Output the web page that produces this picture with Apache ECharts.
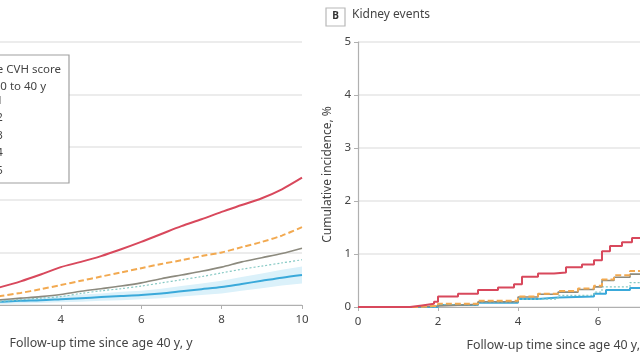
<!DOCTYPE html>
<html><head><meta charset="utf-8">
<script src="https://cdn.jsdelivr.net/npm/echarts@6/dist/echarts.min.js"></script>
<style>html,body{margin:0;padding:0;background:#fff}#c{width:640px;height:360px}</style>
</head><body><div id="c"></div>
<script>
// Panel A (cut off on the left) - smooth cumulative curves
const tA = [0,1,2,2.5,3,3.5,4,4.5,5,5.5,6,6.5,7,7.5,8,8.5,9,9.5,10];
const aQ1 = [0,0.1,0.24,0.34,0.45,0.58,0.72,0.82,0.93,1.06,1.2,1.35,1.5,1.63,1.77,1.9,2.03,2.2,2.42];
const aQ2 = [0,0.04,0.12,0.17,0.23,0.3,0.38,0.46,0.54,0.62,0.7,0.78,0.85,0.93,1.0,1.1,1.2,1.32,1.48];
const aQ3 = [0,0.02,0.07,0.1,0.13,0.16,0.2,0.26,0.31,0.36,0.42,0.5,0.57,0.64,0.72,0.82,0.9,0.98,1.08];
const aQ4 = [0,0.02,0.05,0.07,0.1,0.13,0.16,0.22,0.27,0.31,0.36,0.42,0.48,0.54,0.61,0.68,0.74,0.8,0.86];
const aQ5 = [0,0.01,0.04,0.06,0.08,0.09,0.11,0.13,0.15,0.17,0.19,0.22,0.26,0.3,0.34,0.4,0.46,0.52,0.57];
const aQ5lo = [0,0,0.01,0.02,0.03,0.04,0.05,0.06,0.08,0.09,0.11,0.13,0.16,0.19,0.22,0.27,0.32,0.37,0.41];
const aQ5hi = [0,0.03,0.08,0.11,0.13,0.15,0.17,0.2,0.22,0.25,0.27,0.31,0.36,0.41,0.46,0.53,0.6,0.67,0.73];

// Panel B Kidney events (cut off on the right) - step curves
const bT1 = [0,1,1.3,1.6,1.9,2,2.5,3,3.5,3.9,4.1,4.5,4.9,5.2,5.6,5.9,6.1,6.3,6.6,6.85,7.1];
const bQ1 = [0,0,0.03,0.06,0.1,0.2,0.25,0.32,0.37,0.43,0.57,0.63,0.65,0.75,0.8,0.88,1.05,1.15,1.22,1.3,1.36];
const bT2 = [0,1,1.5,2,3,4,4.5,5,5.5,5.9,6.1,6.4,6.8,7.1];
const bQ2 = [0,0,0.02,0.06,0.12,0.2,0.25,0.3,0.35,0.4,0.52,0.6,0.68,0.72];
const bQ3 = [0,0,0.02,0.05,0.1,0.19,0.24,0.28,0.33,0.38,0.5,0.56,0.62,0.65];
const bT4 = [0,1,2,3,4,5,5.9,6.1,6.8,7.1];
const bQ4 = [0,0,0.04,0.09,0.15,0.22,0.28,0.38,0.46,0.5];
const bT5 = [0,1,2,3,4,4.5,5,5.9,6.2,6.8,7.1];
const bQ5 = [0,0,0.04,0.08,0.15,0.18,0.2,0.25,0.32,0.36,0.39];

const names = ['Q1','Q2','Q3','Q4','Q5'];
const colors = ['#d8485c','#f2a950','#8c8a7e','#86c9c4','#3aa9da'];
const yTicks = [0,1,2,3,4,5];
const xTicks = [0,2,4,6,8,10];

const FONT = 'Noto Sans';
const zip = (xs, ys) => xs.map((x,i)=>[x, ys[i]]);

const lineStyles = [
  {width:2, type:'solid'},
  {width:2, type:[6,3]},
  {width:1.6, type:'solid'},
  {width:1.2, type:[2,2]},
  {width:2, type:'solid'}
];

function mkAxisX(gi){
  return {
    gridIndex: gi, type:'value', min:0, max:10, interval:2,
    name:'Follow-up time since age 40 y, y', nameLocation:'middle', nameGap:32,
    nameTextStyle:{fontFamily:FONT, fontSize:12.4, color:'#444'},
    axisLine:{show:true, lineStyle:{color:'#b0b0b0', width:1.2}},
    axisTick:{show:true, length:4, lineStyle:{color:'#b0b0b0'}},
    axisLabel:{fontFamily:FONT, fontSize:11.5, color:'#444', margin:9,
      formatter: v => xTicks.includes(v) ? String(v) : ''},
    splitLine:{show:false}
  };
}
function mkAxisY(gi, withName){
  return {
    gridIndex: gi, type:'value', min:0, max:5, interval:1,
    name: withName ? 'Cumulative incidence, %' : '', nameLocation:'middle', nameGap:22,
    nameTextStyle:{fontFamily:FONT, fontSize:12, color:'#444'},
    axisLine:{show:true, lineStyle:{color:'#b0b0b0', width:1.2}},
    axisTick:{show:true, length:4, lineStyle:{color:'#b0b0b0'}},
    axisLabel:{fontFamily:FONT, fontSize:11.5, color:'#444', margin:7,
      formatter: v => yTicks.includes(v) ? String(v) : ''},
    splitLine:{show:true, lineStyle:{color:'#e6e6e6', width:1.5}}
  };
}

const aSeries = [aQ1,aQ2,aQ3,aQ4,aQ5];
const bSeries = [[bT1,bQ1],[bT2,bQ2],[bT2,bQ3],[bT4,bQ4],[bT5,bQ5]];

const series = [];
// CI band for Q5 in panel A, drawn as polygon through the axis scales
const bandData = tA.map((t,i)=>[t, aQ5lo[i], aQ5hi[i]]);
series.push({
  type:'custom', xAxisIndex:0, yAxisIndex:0, silent:true, z:1,
  data: bandData,
  renderItem: function(params, api){
    if (params.dataIndex !== 0) return null;
    const top = bandData.map(d => api.coord([d[0], d[2]]));
    const bot = bandData.slice().reverse().map(d => api.coord([d[0], d[1]]));
    return {type:'polygon', shape:{points: top.concat(bot)}, style:{fill:'#dbf1fa'}};
  },
  encode:{x:0, y:[1,2]}
});
aSeries.forEach((d,i)=>{
  series.push({name:names[i], type:'line', xAxisIndex:0, yAxisIndex:0, data: zip(tA,d), symbol:'none', smooth:0.3,
    lineStyle:{color:colors[i], width:lineStyles[i].width, type:lineStyles[i].type}, itemStyle:{color:colors[i]}, z:10-i});
});
bSeries.forEach((p,i)=>{
  series.push({name:names[i], type:'line', xAxisIndex:1, yAxisIndex:1, data: zip(p[0],p[1]), symbol:'none', step:'end',
    lineStyle:{color:colors[i], width:lineStyles[i].width, type:lineStyles[i].type}, itemStyle:{color:colors[i]}, z:10-i});
});

const chart = echarts.init(document.getElementById('c'), null, {renderer:'canvas'});
chart.setOption({
  animation:false,
  backgroundColor:'#fff',
  grid:[
    {left:-100, top:42, width:402, height:263, outerBoundsMode:'none', containLabel:false},
    {left:358, top:42, width:400, height:265, outerBoundsMode:'none', containLabel:false}
  ],
  xAxis:[mkAxisX(0), mkAxisX(1)],
  yAxis:[mkAxisY(0,false), mkAxisY(1,true)],
  legend:{
    data:names, orient:'vertical', left:-40, top:95, itemGap:6.5, itemWidth:22, itemHeight:11, z:120,
    textStyle:{fontFamily:FONT, fontSize:11, color:'#444'}, padding:0
  },
  graphic:[
    {type:'rect', shape:{x:-10, y:55, width:79, height:128}, style:{fill:'#fff', stroke:'#a0a0a0', lineWidth:1.2}, z:90},
    {type:'text', x:61, y:64, style:{text:'Lifestyle CVH score', textAlign:'right', fontFamily:FONT, fontSize:11.5, fill:'#444'}, z:100},
    {type:'text', x:46, y:81, style:{text:'age 20 to 40 y', textAlign:'right', fontFamily:FONT, fontSize:11.5, fill:'#444'}, z:100},
    {type:'rect', shape:{x:326, y:8, width:19, height:18}, style:{fill:'#fff', stroke:'#b8b8b8', lineWidth:1.2}, z:100},
    {type:'text', x:335.5, y:11, style:{text:'B', textAlign:'center', fontFamily:FONT, fontSize:10, fontWeight:'bold', fill:'#333'}, z:100},
    {type:'text', x:352, y:9, style:{text:'Kidney events', fontFamily:FONT, fontSize:12, fill:'#444'}, z:100}
  ],
  series: series
});
</script></body></html>
